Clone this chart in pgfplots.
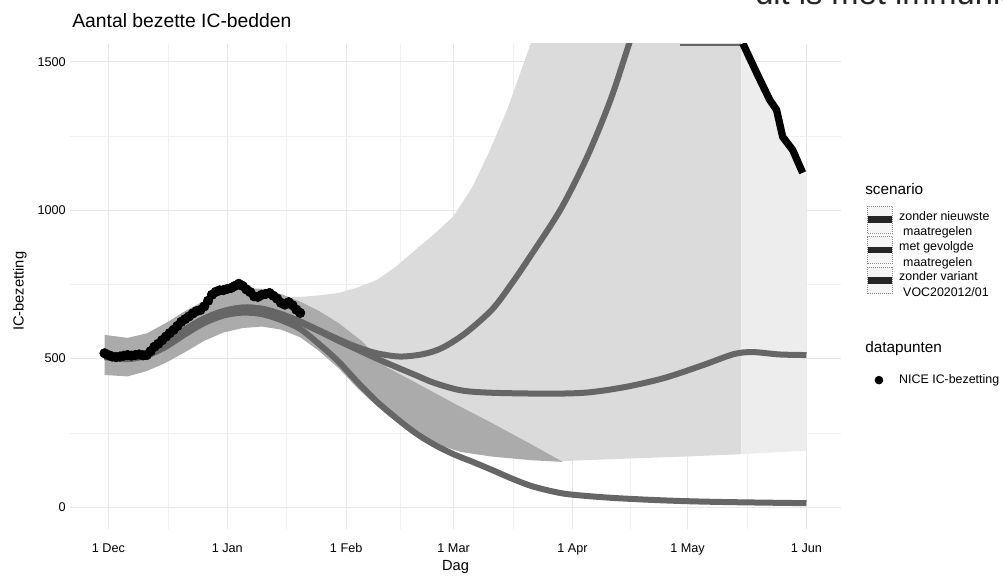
\documentclass[border=0pt]{standalone}
\usepackage{fontspec}
\setmainfont{Liberation Sans}
\usepackage{pgfplots}
\pgfplotsset{compat=1.18}
\pgfplotsset{
  scenkey/.style={legend image code/.code={
    \draw[black!45, densely dotted, fill=black!4, line width=0.5pt] (0pt,-10pt) rectangle (18.75pt,10pt);
    \draw[black!85, line width=5pt] (0.5pt,0pt) -- (18.25pt,0pt);}},
}
\begin{document}
\begin{tikzpicture}
\useasboundingbox (0,0) rectangle (752.25pt,431.25pt);
\begin{axis}[
  at={(52.5pt,34.5pt)}, anchor=south west,
  scale only axis, width=578.25pt, height=363.75pt,
  xmin=-10, xmax=191, ymin=-74, ymax=1560,
  axis line style={draw=none},
  major tick length=0pt, minor tick length=0pt,
  xtick={0,31,62,90,121,151,182},
  xticklabels={1 Dec,1 Jan,1 Feb,1 Mar,1 Apr,1 May,1 Jun},
  minor xtick={15.5,46.5,76,105.5,136,166.5},
  ytick={0,500,1000,1500}, yticklabels={0,500,1000,1500},
  minor ytick={250,750,1250},
  grid=both,
  major grid style={black!9, line width=0.6pt},
  minor grid style={black!6, line width=0.4pt},
  xticklabel style={font=\fontsize{9.5}{11}\selectfont, inner sep=0pt, anchor=base, yshift=-17.25pt},
  yticklabel style={font=\fontsize{9.5}{11}\selectfont, inner sep=0pt, anchor=east, xshift=-3pt},
  xlabel={Dag}, ylabel={IC-bezetting},
  xlabel style={at={(axis description cs:0.5,-0.078)}, anchor=center, font=\fontsize{11}{13}\selectfont},
  ylabel style={at={(axis description cs:-0.065,0.49)}, anchor=center, font=\fontsize{11}{13}\selectfont},
  legend style={at={(1.031,0.666)}, anchor=north west, draw=none, fill=none, inner sep=0pt, outer sep=0pt,
    font=\fontsize{9.3}{11.6}\selectfont, row sep=2.25pt, column sep=3pt, nodes={inner sep=0pt}},
  legend cell align=left,
]
% light stipple ribbon
\addplot[forget plot, draw=none, fill=black!14] coordinates {
(45,705)(50,708)(55,713)(60,721)(65,740)(70,765)(75,810)(80,866)(85,920)(90,980)(95,1080)(99.5,1203)(104,1340)(110,1557)(114,1700)(118,1800)(165,1800)
(165,178)(150,170)(135,163)(118.5,155)(110,165)(100,190)(90,240)(80,320)(70,420)(60,520)(50,600)(45,630)} -- cycle;
\addplot[forget plot, draw=none, fill=black!7] coordinates {
(165,1800)(165.4,1562)(169,1463)(172.4,1372)(174.2,1338)(175.8,1247)(178.4,1203)(181,1126)(182,1110)(182,190)(165,178)} -- cycle;
% trunk / wedge ribbon
\addplot[forget plot, draw=none, fill=black!33] coordinates {
(-1,580)(5,570)(10,585)(15,620)(20,660)(25,695)(30,722)(35,738)(40,735)(45,718)(50,692)(55,660)(60,620)(66,560)(72.7,470)(80,420)(90,350)(100,283)(110,213)(118.5,152)
(110,158)(100,170)(92,185)(86,210)(80,245)(75,288)(70,340)(65,400)(60,468)(55,525)(50,572)(45,598)(40,608)(35,603)(30,588)(25,560)(20,522)(15,486)(10,458)(5,440)(-1,445)} -- cycle;
% upper ribbon edge (dark)
\addplot[forget plot, black!60, line width=1pt] coordinates {(149,1557)(165.4,1557)};
\addplot[forget plot, black, line width=5.5pt] coordinates {
(165.4,1562)(169,1463)(172.4,1372)(174.2,1338)(175.8,1247)(178.4,1203)(181,1126)};
% scenario lines
\addplot[forget plot, black!60, line width=4.5pt, smooth] coordinates {
(-1,505)(5,498)(10,510)(15,540)(20,582)(25,620)(30,645)(35,655)(40,650)(45,630)(50,600)(55,548)(60,490)(65,420)(70,355)(75,300)(80,250)(85,210)(90,178)(95,152)(100,125)(105,97)(110,72)(115,55)(120,43)(130,32)(140,25)(150,20)(160,17)(170,15)(182,13)};
\addplot[forget plot, black!60, line width=4.5pt, smooth] coordinates {
(-1,512)(5,505)(10,520)(15,555)(20,598)(25,635)(30,660)(35,672)(40,668)(45,650)(50,622)(55,592)(60,560)(65,530)(70,500)(75,472)(80,445)(85,418)(92,393)(100,385)(115,382)(125,386)(135,405)(145,435)(155,478)(163,515)(168,522)(175,514)(182,512)};
\addplot[forget plot, black!60, line width=4.5pt, smooth] coordinates {
(-1,512)(5,505)(10,520)(15,555)(20,598)(25,635)(30,660)(35,672)(40,668)(45,650)(50,625)(55,595)(60,565)(65,538)(70,518)(76,507)(82,515)(87,536)(93,585)(100,665)(105,750)(110,845)(118,1005)(125,1185)(131,1375)(136,1570)(140,1720)};
% data points
\addplot[forget plot, only marks, mark=*, mark size=3.6pt, black] coordinates {
(-1,518)(0,512)(1,507)(2,505)(3,507)(4,510)(5,512)(6,510)(7,512)(8,514)(9,511)(10,512)(11,525)(12,540)(13,550)(14,562)(15,574)(16,586)(17,597)(18,610)(19,624)(20,633)(21,642)(22,652)(23,660)(24,664)(25,676)(26,695)(27,715)(28,725)(29,730)(30,731)(31,735)(32,738)(33,745)(34,752)(35,745)(36,733)(37,724)(38,710)(39,708)(40,715)(41,718)(42,721)(43,712)(44,702)(45,688)(46,682)(47,690)(48,680)(49,665)(50,654)};
% legend
\addlegendimage{scenkey}
\addlegendentry{\begin{tabular}{@{}l@{}}zonder nieuwste\\\hspace{3pt}maatregelen\end{tabular}}
\addlegendimage{scenkey}
\addlegendentry{\begin{tabular}{@{}l@{}}met gevolgde\\\hspace{3pt}maatregelen\end{tabular}}
\addlegendimage{scenkey}
\addlegendentry{\begin{tabular}{@{}l@{}}zonder variant\\\hspace{3pt}VOC202012/01\end{tabular}}
\addlegendimage{empty legend}
\addlegendentry{\rule{0pt}{54.5pt}}
\addlegendimage{only marks, mark=*, mark size=3pt, black}
\addlegendentry{NICE IC-bezetting}
\end{axis}
\node[anchor=base west, inner sep=0pt, font=\fontsize{14.5}{17}\selectfont] at (54pt,410.25pt) {Aantal bezette IC-bedden};
\node[anchor=base west, inner sep=0pt, font=\fontsize{11.5}{13}\selectfont] at (648.75pt,285pt) {scenario};
\node[anchor=base west, inner sep=0pt, font=\fontsize{11.5}{13}\selectfont] at (648.75pt,166.7pt) {datapunten};
\node[anchor=base west, inner sep=0pt, font=\fontsize{24.5}{28}\selectfont, black!85] at (566.25pt,427.5pt) {dit is met immuniteit};
\end{tikzpicture}
\end{document}
